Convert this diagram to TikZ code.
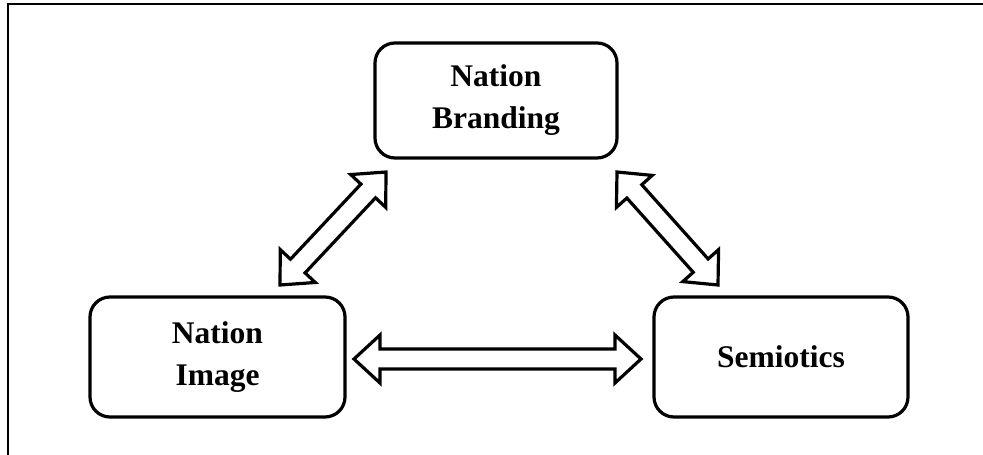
\documentclass[tikz,border=0pt]{standalone}
\usepackage{fontspec}
\setmainfont{Liberation Serif}
\usetikzlibrary{calc}
\tikzset{
  box/.style={draw=black, line width=3.2pt, rounded corners=20pt, fill=white,
    align=center, inner sep=0pt,
    font=\fontsize{31.5}{42}\selectfont\bfseries},
  fatarrow/.style={draw=black, line width=3.2pt, fill=white, line join=miter, miter limit=4},
}
\newcommand\dblarrow[2]{%
  \path ($(#1)!26pt!(#2)$) coordinate (h1) ($(#2)!26pt!(#1)$) coordinate (h2);
  \draw[fatarrow] (#1)
    -- ($(h1)!24pt!90:(#2)$) -- ($(h1)!10pt!90:(#2)$)
    -- ($(h2)!10pt!-90:(#1)$) -- ($(h2)!24pt!-90:(#1)$)
    -- (#2)
    -- ($(h2)!24pt!90:(#1)$) -- ($(h2)!10pt!90:(#1)$)
    -- ($(h1)!10pt!-90:(#2)$) -- ($(h1)!24pt!-90:(#2)$)
    -- cycle;
}
\begin{document}
\begin{tikzpicture}[x=1pt,y=-1pt]
\useasboundingbox (0,0) rectangle (983,455);
% outer frame
\draw[line width=2pt] (8,460) -- (8,4) -- (990,4);
% boxes
\node[box, minimum width=242pt, minimum height=115pt] (brand) at (496,100.5) {Nation\\Branding};
\node[box, minimum width=255pt, minimum height=120pt] (image) at (217.5,357) {Nation\\Image};
\node[box, minimum width=254pt, minimum height=120pt] (semio) at (781,357) {Semiotics};
% arrow end points
\coordinate (l1) at (386,172);
\coordinate (l2) at (280,285);
\coordinate (r1) at (617,172);
\coordinate (r2) at (718,285);
\coordinate (m1) at (354,359);
\coordinate (m2) at (641,359);
\dblarrow{l1}{l2}
\dblarrow{r1}{r2}
\dblarrow{m1}{m2}
\end{tikzpicture}
\end{document}
